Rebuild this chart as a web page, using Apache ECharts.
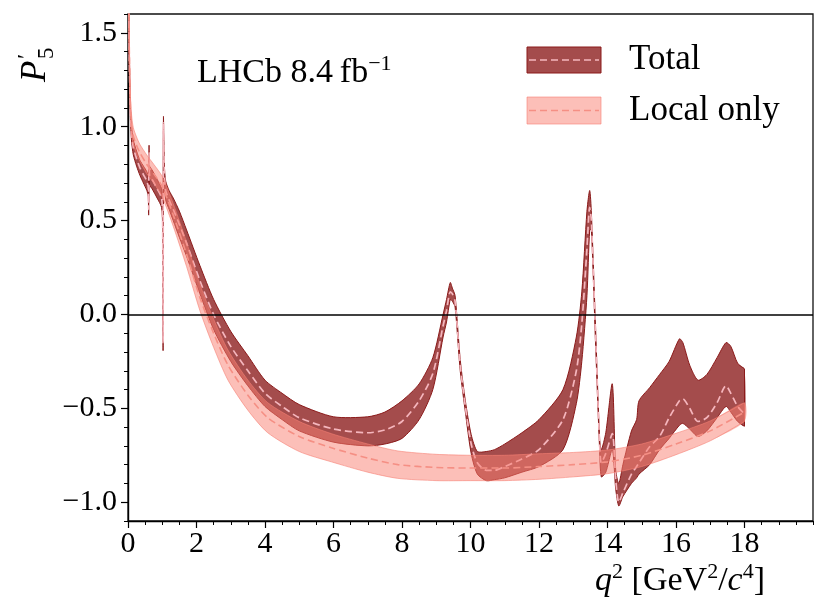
<!DOCTYPE html>
<html>
<head>
<meta charset="utf-8">
<script src="https://cdn.jsdelivr.net/npm/echarts@6/dist/echarts.min.js"></script>
<style>
html,body{margin:0;padding:0;background:#fff;}
#chart{width:829px;height:614px;}
</style>
</head>
<body>
<div id="chart"></div>
<script>
// ---------------- data ----------------
const xMajorTicks = [0, 2, 4, 6, 8, 10, 12, 14, 16, 18];
const yMajorTicks = [-1.0, -0.5, 0.0, 0.5, 1.0, 1.5];

// "Total" band: q2, lower edge, central value, upper edge
const totalQ2 = [0.02,0.04,0.07,0.10,0.155,0.25,0.35,0.45,0.55,0.59,0.603,0.615,0.63,0.70,0.85,0.98,1.01,1.025,1.035,1.06,1.10,1.20,1.32,1.50,1.71,2.10,2.50,3.00,3.50,4.00,4.50,5.00,6.00,7.00,7.50,8.00,8.50,8.90,9.20,9.30,9.41,9.47,9.55,9.70,9.85,10.02,10.20,10.46,10.70,11.00,11.50,12.00,12.70,13.09,13.25,13.40,13.48,13.53,13.65,13.77,13.82,13.95,14.14,14.24,14.33,14.45,14.70,14.85,14.92,15.23,15.52,15.80,16.10,16.20,16.40,16.64,16.90,17.20,17.46,17.60,17.80,18.00];
const totalLow = [1.62,1.28,1.04,0.93,0.85,0.79,0.74,0.70,0.66,0.63,0.53,0.82,0.69,0.67,0.62,0.57,0.46,-0.19,0.97,0.72,0.61,0.56,0.50,0.41,0.31,0.11,-0.08,-0.25,-0.38,-0.49,-0.56,-0.62,-0.68,-0.70,-0.69,-0.66,-0.56,-0.40,-0.12,-0.04,0.08,0.07,0.04,-0.30,-0.52,-0.74,-0.85,-0.885,-0.88,-0.87,-0.84,-0.81,-0.72,-0.475,-0.25,0.10,0.45,0.45,-0.15,-0.72,-0.865,-0.84,-0.72,-0.93,-1.02,-0.97,-0.90,-0.87,-0.85,-0.80,-0.72,-0.66,-0.59,-0.58,-0.61,-0.65,-0.62,-0.55,-0.49,-0.52,-0.57,-0.595];
const totalMid = [1.68,1.33,1.08,0.97,0.89,0.83,0.78,0.745,0.71,0.68,0.56,0.86,0.74,0.72,0.67,0.62,0.50,-0.15,1.02,0.76,0.66,0.61,0.56,0.48,0.38,0.18,0.00,-0.17,-0.30,-0.42,-0.49,-0.55,-0.61,-0.63,-0.615,-0.57,-0.46,-0.315,-0.06,0.02,0.12,0.11,0.07,-0.27,-0.49,-0.69,-0.79,-0.83,-0.83,-0.81,-0.77,-0.72,-0.56,-0.30,-0.05,0.35,0.57,0.50,-0.10,-0.69,-0.79,-0.74,-0.635,-0.88,-1.00,-0.95,-0.85,-0.81,-0.79,-0.705,-0.65,-0.55,-0.46,-0.45,-0.50,-0.57,-0.55,-0.47,-0.38,-0.42,-0.49,-0.53];
const totalHigh = [1.74,1.38,1.12,1.01,0.93,0.87,0.82,0.79,0.76,0.73,0.60,0.90,0.79,0.77,0.72,0.67,0.55,-0.11,1.05,0.80,0.71,0.66,0.62,0.55,0.45,0.26,0.08,-0.09,-0.22,-0.35,-0.42,-0.48,-0.545,-0.545,-0.52,-0.46,-0.37,-0.23,0.00,0.08,0.17,0.14,0.10,-0.24,-0.46,-0.64,-0.73,-0.73,-0.72,-0.69,-0.63,-0.56,-0.40,-0.12,0.12,0.55,0.66,0.54,-0.06,-0.66,-0.72,-0.63,-0.37,-0.83,-0.90,-0.80,-0.62,-0.56,-0.46,-0.39,-0.32,-0.25,-0.13,-0.15,-0.27,-0.35,-0.32,-0.23,-0.15,-0.17,-0.26,-0.29];

// "Local only" band: q2, lower edge, central value, upper edge
const localQ2 = [0.02,0.04,0.07,0.10,0.155,0.25,0.35,0.545,0.75,1.00,1.32,1.71,2.10,2.50,2.92,3.50,4.08,5.00,5.94,7.00,7.88,9.00,10.00,11.00,12.00,13.00,14.00,15.00,16.00,17.00,18.00];
const localLow = [1.66,1.33,1.07,0.97,0.905,0.855,0.815,0.75,0.70,0.625,0.47,0.255,0.02,-0.175,-0.35,-0.51,-0.63,-0.73,-0.785,-0.84,-0.873,-0.885,-0.885,-0.885,-0.878,-0.865,-0.848,-0.81,-0.747,-0.673,-0.57];
const localMid = [1.72,1.38,1.12,1.02,0.95,0.90,0.86,0.80,0.75,0.68,0.53,0.32,0.09,-0.10,-0.27,-0.43,-0.55,-0.65,-0.71,-0.765,-0.80,-0.815,-0.818,-0.818,-0.81,-0.80,-0.785,-0.75,-0.69,-0.62,-0.52];
const localHigh = [1.78,1.43,1.17,1.07,0.995,0.945,0.905,0.85,0.80,0.735,0.59,0.385,0.16,-0.025,-0.19,-0.35,-0.47,-0.57,-0.635,-0.69,-0.727,-0.745,-0.75,-0.75,-0.742,-0.735,-0.722,-0.69,-0.633,-0.567,-0.47];

// ---------------- styling ----------------
const SERIF = '"Liberation Serif", "DejaVu Serif", serif';
const totalEdge = '#8b1a1a';
const totalFill = 'rgba(139,26,26,0.78)';
const totalDash = '#f5b6bd';
const localEdge = 'rgba(246,128,116,0.6)';
const localFill = 'rgba(250,128,114,0.5)';
const localDash = '#f58f84';
const SMOOTH = 0.25;

const pairs = (xs, ys) => xs.map((x, i) => [x, ys[i]]);
const rows = (xs, lo, hi) => xs.map((x, i) => [x, lo[i], hi[i]]);
const fmtY = v => (v < 0 ? '\u2212' : '') + Math.abs(v).toFixed(1);

// Band drawn through the chart's own scales (api.coord); one polygon per band.
function bandSeries(name, xs, lo, hi, fill, stroke, z) {
  return {
    type: 'custom', name: name, xAxisIndex: 0, yAxisIndex: 0, z: z, clip: true, silent: true, animation: false,
    data: rows(xs, lo, hi),
    encode: {x: 0, y: [1, 2]},
    renderItem: function (params, api) {
      if (params.dataIndex !== 0) return null;
      const up = xs.map((x, i) => api.coord([x, hi[i]]));
      const dn = xs.map((x, i) => api.coord([x, lo[i]]));
      const n = up.length - 1;
      return {
        type: 'group',
        children: [
          {type: 'polygon', shape: {points: up.concat(dn.slice().reverse()), smooth: SMOOTH}, style: {fill: fill, stroke: null}},
          {type: 'polyline', shape: {points: up, smooth: SMOOTH}, style: {fill: null, stroke: stroke, lineWidth: 1}},
          {type: 'polyline', shape: {points: dn, smooth: SMOOTH}, style: {fill: null, stroke: stroke, lineWidth: 1}},
          {type: 'line', shape: {x1: up[n][0], y1: up[n][1], x2: dn[n][0], y2: dn[n][1]}, style: {stroke: stroke, lineWidth: 1}}
        ]
      };
    }
  };
}

const chart = echarts.init(document.getElementById('chart'), null, {renderer: 'canvas'});

chart.setOption({
  animation: false,
  backgroundColor: '#fff',
  grid: {left: 128, right: 16, top: 14, bottom: 93, show: true, borderColor: '#111', borderWidth: 1.3, backgroundColor: 'transparent'},
  xAxis: [
    {type: 'value', min: 0, max: 20, interval: 0.5, position: 'bottom',
     axisLine: {show: true, onZero: false, lineStyle: {color: '#000', width: 1.4}},
     axisTick: {show: true, length: 4, lineStyle: {color: '#000', width: 1}},
     axisLabel: {show: false}, splitLine: {show: false}},
    {type: 'value', min: 0, max: 20, position: 'bottom',
     axisLine: {show: false, onZero: false},
     axisTick: {show: true, length: 7, customValues: xMajorTicks, lineStyle: {color: '#000', width: 1.2}},
     axisLabel: {show: true, customValues: xMajorTicks, fontFamily: SERIF, fontSize: 30, color: '#000', margin: 8,
                 formatter: v => String(v)},
     splitLine: {show: false}}
  ],
  yAxis: [
    {type: 'value', min: -1.1, max: 1.6, interval: 0.1, position: 'left',
     axisLine: {show: true, onZero: false, lineStyle: {color: '#000', width: 1.4}},
     axisTick: {show: true, length: 4, lineStyle: {color: '#000', width: 1}},
     axisLabel: {show: false}, splitLine: {show: false}},
    {type: 'value', min: -1.1, max: 1.6, position: 'left',
     axisLine: {show: false, onZero: false},
     axisTick: {show: true, length: 7, customValues: yMajorTicks, lineStyle: {color: '#000', width: 1.2}},
     axisLabel: {show: true, customValues: yMajorTicks, fontFamily: SERIF, fontSize: 30, color: '#000', margin: 11,
                 formatter: fmtY},
     splitLine: {show: false}}
  ],
  series: [
    bandSeries('Total', totalQ2, totalLow, totalHigh, totalFill, totalEdge, 2),
    {type: 'line', name: 'totalMid', xAxisIndex: 0, yAxisIndex: 0, z: 3, symbol: 'none', showSymbol: false, smooth: SMOOTH,
     silent: true, animation: false, data: pairs(totalQ2, totalMid),
     lineStyle: {color: totalDash, width: 1.7, type: [7, 4]}},
    bandSeries('Local only', localQ2, localLow, localHigh, localFill, localEdge, 4),
    {type: 'line', name: 'localMid', xAxisIndex: 0, yAxisIndex: 0, z: 5, symbol: 'none', showSymbol: false, smooth: SMOOTH,
     silent: true, animation: false, data: pairs(localQ2, localMid),
     lineStyle: {color: localDash, width: 1.6, type: [7, 4]},
     markLine: {silent: true, symbol: ['none', 'none'], label: {show: false}, animation: false,
                lineStyle: {color: '#000', width: 1.6, type: 'solid'}, data: [{yAxis: 0}]}}
  ],
  graphic: [
    {type: 'text', left: 197, top: 53, z: 10,
     style: {text: '{n|LHCb 8.4\u2009fb}{s|\u22121}', fill: '#000',
       rich: {n: {fontFamily: SERIF, fontSize: 34, lineHeight: 40, fill: '#000'},
              s: {fontFamily: SERIF, fontSize: 22, lineHeight: 22, verticalAlign: 'top', fill: '#000'}}}},
    {type: 'rect', shape: {x: 527, y: 47, width: 74, height: 26}, z: 10,
     style: {fill: totalFill, stroke: totalEdge, lineWidth: 1}},
    {type: 'line', shape: {x1: 529, y1: 60, x2: 599, y2: 60}, z: 11,
     style: {stroke: totalDash, lineWidth: 1.7, lineDash: [7, 4]}},
    {type: 'text', x: 629, y: 60, z: 10,
     style: {text: 'Total', fontFamily: SERIF, fontSize: 35, fill: '#000', align: 'left', verticalAlign: 'middle'}},
    {type: 'rect', shape: {x: 527, y: 97, width: 74, height: 27}, z: 10,
     style: {fill: localFill, stroke: localEdge, lineWidth: 1}},
    {type: 'line', shape: {x1: 529, y1: 110.5, x2: 599, y2: 110.5}, z: 11,
     style: {stroke: localDash, lineWidth: 1.6, lineDash: [7, 4]}},
    {type: 'text', x: 629, y: 111, z: 10,
     style: {text: 'Local only', fontFamily: SERIF, fontSize: 35, fill: '#000', align: 'left', verticalAlign: 'middle'}},
    {type: 'group', x: 47, y: 82, rotation: Math.PI / 2, z: 10, children: [
      {type: 'text', x: 0, y: -11, style: {text: 'P', fontFamily: SERIF, fontStyle: 'italic', fontSize: 35, fill: '#000', align: 'left', verticalAlign: 'middle'}},
      {type: 'text', x: 23, y: -20, style: {text: '\u2032', fontFamily: SERIF, fontSize: 24, fill: '#000', align: 'left', verticalAlign: 'middle'}},
      {type: 'text', x: 23, y: 0, style: {text: '5', fontFamily: SERIF, fontSize: 23, fill: '#000', align: 'left', verticalAlign: 'middle'}}
    ]},
    {type: 'text', right: 64, top: 561, z: 10,
     style: {text: '{i|q}{s|2}{n| [GeV}{s|2}{n|/}{i|c}{s|4}{n|]}', fill: '#000',
       rich: {n: {fontFamily: SERIF, fontSize: 34, lineHeight: 40, fill: '#000'},
              i: {fontFamily: SERIF, fontStyle: 'italic', fontSize: 34, lineHeight: 40, fill: '#000'},
              s: {fontFamily: SERIF, fontSize: 22, lineHeight: 22, verticalAlign: 'top', fill: '#000'}}}}
  ]
});
</script>
</body>
</html>
